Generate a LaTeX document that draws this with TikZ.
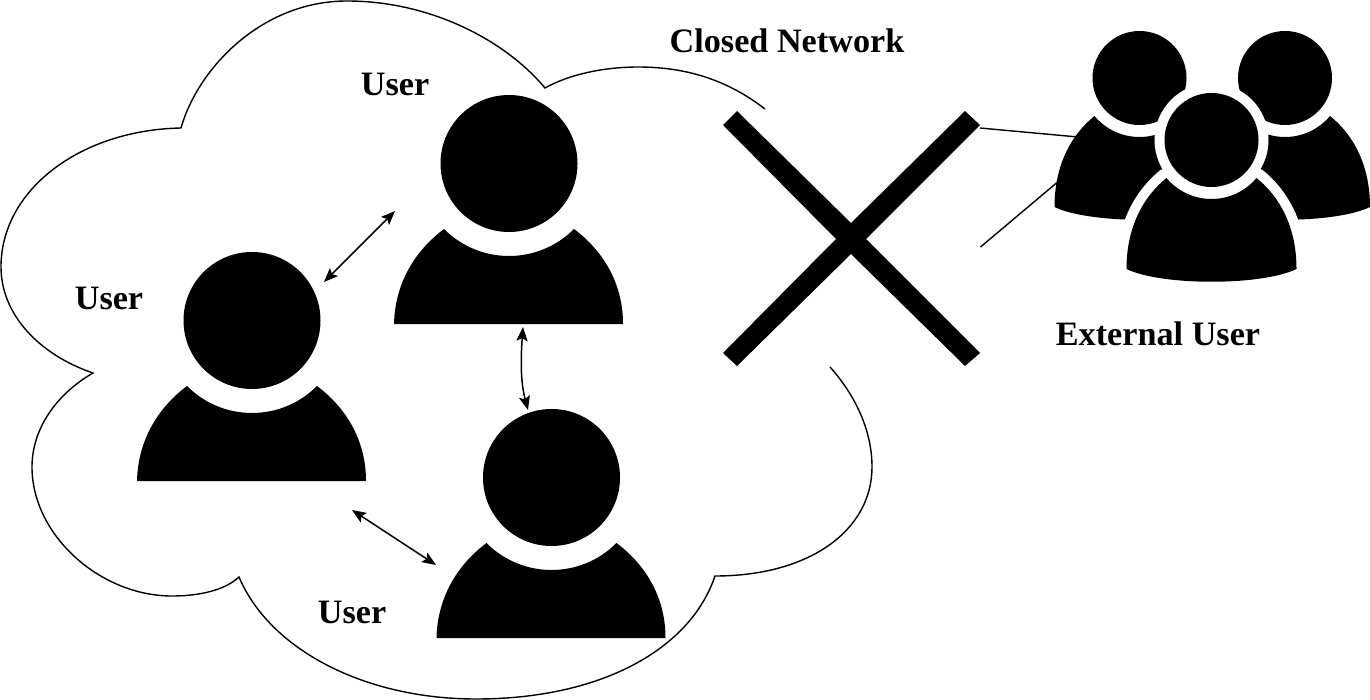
\documentclass[tikz,border=0pt]{standalone}
\usepackage{fontspec}
\setmainfont{Liberation Serif}
\usetikzlibrary{arrows.meta}
\tikzset{
  cloudline/.style={line width=0.7pt,black,line join=miter},
  link/.style={line width=0.75pt,black,{Stealth[length=7pt,width=5.6pt,inset=1.4pt]}-{Stealth[length=7pt,width=5.6pt,inset=1.4pt]}},
  stub/.style={line width=0.7pt,black},
  lbl/.style={inner sep=0pt,font=\bfseries\fontsize{17.1}{20}\selectfont},
  bigperson/.pic={
    \fill[black] (-115,160) .. controls (-114,118) and (-93,86) .. (-65,65)
      .. controls (-29,101) and (29,101) .. (65,65)
      .. controls (93,86) and (114,118) .. (114,160) -- cycle;
    \fill[black] (0,-0.5) circle (68.5);
  },
  rearperson/.pic={
    \fill[black] (-85,129) .. controls (-85,92) and (-72,60) .. (-45,38)
      .. controls (-21.4,66) and (21.4,66) .. (45,38)
      .. controls (72,60) and (85,92) .. (85,129)
      .. controls (50,146) and (-50,146) .. (-85,129) -- cycle;
    \fill[black] (0,0) circle (47);
  },
  frontperson/.pic={
    \fill[white] (0,0) circle (57);
    \draw[white,line width=10pt,line join=round] (-85,129) .. controls (-85,92) and (-72,60) .. (-45,38)
      .. controls (-21.4,66) and (21.4,66) .. (45,38)
      .. controls (72,60) and (85,92) .. (85,129)
      .. controls (50,146) and (-50,146) .. (-85,129) -- cycle;
    \fill[black] (-85,129) .. controls (-85,92) and (-72,60) .. (-45,38)
      .. controls (-21.4,66) and (21.4,66) .. (45,38)
      .. controls (72,60) and (85,92) .. (85,129)
      .. controls (50,146) and (-50,146) .. (-85,129) -- cycle;
    \fill[black] (0,0) circle (47);
  }
}
\begin{document}
\begin{tikzpicture}[x=0.5pt,y=-0.5pt]
\useasboundingbox (0,0) rectangle (1370,700);
\fill[white] (0,0) rectangle (1370,700);
% cloud
\draw[cloudline] (830,367) .. controls (855,395) and (872,430) .. (872,467)
  .. controls (872,530) and (810,576) .. (715,576)
  .. controls (690,650) and (600,699) .. (476,699)
  .. controls (365,699) and (270,650) .. (239,577)
  .. controls (225,590) and (200,596) .. (172,596)
  .. controls (100,596) and (32,535) .. (32,467)
  .. controls (32,430) and (55,395) .. (93,373)
  .. controls (40,355) and (1,315) .. (1,267)
  .. controls (1,190) and (80,130) .. (181,128)
  .. controls (198,68) and (262,1) .. (347,1)
  .. controls (430,1) and (505,40) .. (545,88)
  .. controls (570,74) and (605,67) .. (638,67)
  .. controls (690,67) and (730,82) .. (765,109);
% stray lines behind the external group
\coordinate (s1a) at (980,128); \coordinate (s1b) at (1078,137);
\coordinate (s2a) at (980.5,247); \coordinate (s2b) at (1060,180);
\draw[stub] (s1a) -- (s1b);
\draw[stub] (s2a) -- (s2b);
% users
\pic at (509,164) {bigperson};
\pic at (252,321) {bigperson};
\pic at (551.5,478) {bigperson};
% external group
\pic at (1139.5,78) {rearperson};
\pic at (1285,78) {rearperson};
\pic at (1211.5,140) {frontperson};
% X
\fill[black] (737,111) -- (851,223) -- (965,111) -- (980,125) -- (866,239)
  -- (980,353) -- (965,366) -- (851,254) -- (737,366) -- (723,353)
  -- (836,239) -- (723,125) -- cycle;
% arrows
\coordinate (a1) at (395,211); \coordinate (a2) at (324,282);
\coordinate (b1) at (523,327); \coordinate (b2) at (528,410);
\coordinate (c1) at (352,510); \coordinate (c2) at (436,565);
\draw[link] (a1) -- (a2);
\draw[link] (b1) .. controls (521,355) and (520,380) .. (b2);
\draw[link] (c1) -- (c2);
% labels
\node[lbl] (u1) at (395,84) {User};
\node[lbl] (u2) at (109,298) {User};
\node[lbl] (u3) at (352,612) {User};
\node[lbl] (cn) at (787,41) {Closed Network};
\node[lbl] (eu) at (1158,334) {External User};
\end{tikzpicture}
\end{document}
